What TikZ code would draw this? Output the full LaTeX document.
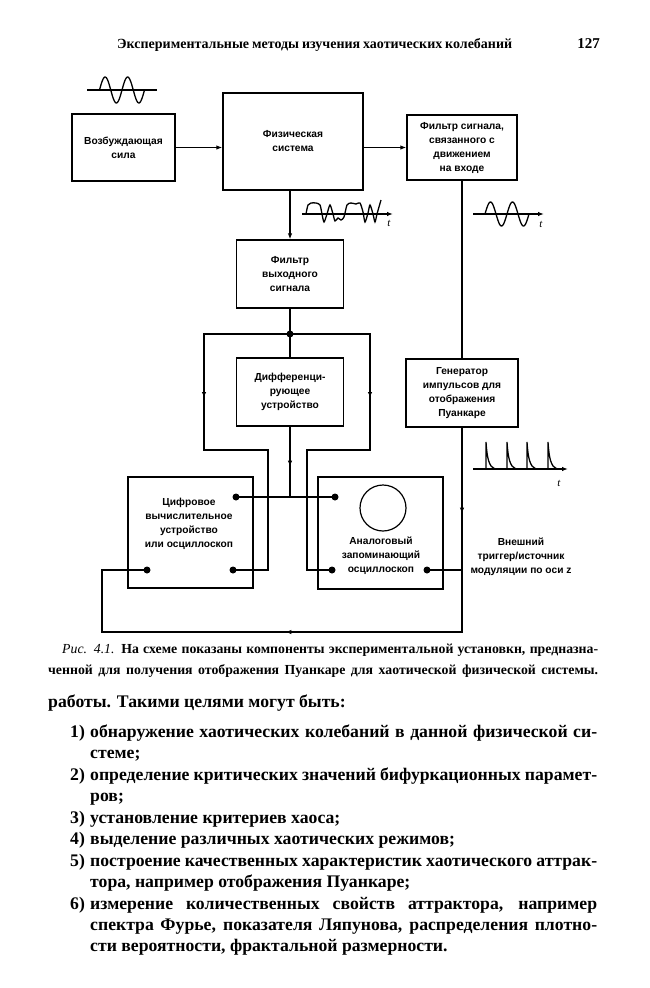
\documentclass[tikz,border=0pt]{standalone}
\usepackage{fontspec}
\setmainfont{Liberation Serif}
\setsansfont{Liberation Sans}
\usetikzlibrary{arrows.meta,decorations.markings}
\tikzset{
  blk/.style={draw, line width=1.3pt, inner sep=0pt},
  lbl/.style={font=\sffamily\bfseries\fontsize{10.2}{14}\selectfont, align=center},
  wire/.style={line width=1.3pt},
  dot/.style={circle, fill, inner sep=0pt, minimum size=7pt},
  tip/.style={-{Latex[length=6pt,width=4.5pt]}},
  marr/.style={postaction={decorate}, decoration={markings, mark=at position #1 with {\arrow{Latex[length=6pt,width=4.5pt]}}}},
  bodyf/.style={font=\bfseries\fontsize{17.7}{21}\selectfont, inner sep=0pt},
  capf/.style={font=\bfseries\fontsize{13.8}{21}\selectfont, inner sep=0pt},
  tlab/.style={font=\itshape\fontsize{11}{11}\selectfont, inner sep=0pt},
  wave/.style={line width=1.3pt},
}
\begin{document}
\begin{tikzpicture}[x=1pt,y=-1pt]
\fill[white] (0,0) rectangle (650,988);
\useasboundingbox (0,0) rectangle (650,988);

% header
\node[font=\bfseries\fontsize{14}{16}\selectfont, anchor=base west, inner sep=0pt] (hdr) at (117,48) {\makebox[395pt][s]{Экспериментальные методы изучения хаотических колебаний}};
\node[font=\bfseries\fontsize{15}{16}\selectfont, anchor=base east, inner sep=0pt] (pg) at (600,48) {127};

% boxes
\node[blk, lbl, minimum width=103pt, minimum height=67pt] (vozb) at (123.5,147.5) {Возбуждающая\\сила};
\node[blk, lbl, minimum width=140pt, minimum height=97pt] (fiz) at (293,141.5) {Физическая\\система};
\node[blk, lbl, minimum width=110pt, minimum height=65pt] (filtin) at (462,147.5) {Фильтр сигнала,\\связанного с\\движением\\на входе};
\node[blk, lbl, minimum width=107pt, minimum height=68pt] (filtout) at (290,274) {Фильтр\\выходного\\сигнала};
\node[blk, lbl, minimum width=107pt, minimum height=68pt] (diff) at (290,392) {Дифференци-\\рующее\\устройство};
\node[blk, lbl, minimum width=112pt, minimum height=68pt] (gen) at (462,393) {Генератор\\импульсов для\\отображения\\Пуанкаре};
\node[blk, minimum width=125pt, minimum height=111pt] (dig) at (190.5,532.5) {};
\node[blk, minimum width=125pt, minimum height=112pt] (ana) at (380.5,533) {};
\node[lbl] (digtxt) at (189,524) {Цифровое\\вычислительное\\устройство\\или осциллоскоп};
\node[lbl] (anatxt) at (381,556) {Аналоговый\\запоминающий\\осциллоскоп};
\node[draw, circle, line width=1.2pt, minimum size=46pt, inner sep=0pt] (screen) at (383,508) {};
\node[lbl] (ext) at (521,557) {Внешний\\триггер/источник\\модуляции по оси z};

% ports
\node[dot] (dRT) at (236,497) {};
\node[dot] (dRB) at (233,570) {};
\node[dot] (dLB) at (147,570) {};
\node[dot] (aLT) at (335,497) {};
\node[dot] (aLB) at (332,570) {};
\node[dot] (aRB) at (427,570) {};
\node[dot] (J) at (290,334) {};

% coordinates
\coordinate (L1) at (204,334);
\coordinate (L2) at (204,450);
\coordinate (L3) at (268,450);
\coordinate (R1) at (370,334);
\coordinate (R2) at (370,450);
\coordinate (R3) at (307,450);
\coordinate (B1) at (462,632);
\coordinate (B2) at (102,632);
\coordinate (M) at (290,497);

% connectors
\draw[wire, tip] (vozb.east) -- (vozb.east -| fiz.west);
\draw[wire, tip] (fiz.east |- filtin.west) -- (filtin.west);
\draw[wire, tip] (fiz.south -| filtout.north) -- (filtout.north);
\draw[wire] (filtout.south) -- (J.center);
\draw[wire] (J.center) -- (diff.north);
\draw[wire, marr=150pt] (J.center) -- (L1) -- (L2) -- (L3) |- (dRB.center);
\draw[wire, marr=144pt] (J.center) -- (R1) -- (R2) -- (R3) |- (aLB.center);
\draw[wire, marr=40pt] (diff.south) -- (M);
\draw[wire] (dRT.center) -- (aLT.center);
\draw[wire] (filtin.south) -- (gen.north);
\draw[wire, postaction={decorate}, decoration={markings,
   mark=at position 86pt with {\arrow{Latex[length=6pt,width=4.5pt]}},
   mark=at position 381pt with {\arrow{Latex[length=6pt,width=4.5pt]}}}]
   (gen.south) -- (B1) -- (B2) |- (dLB.center);
\draw[wire] (aRB.center) -- (aRB -| gen.south);

% input sine
\draw[wave] (87,90) -- (157,90);
\draw[wave] plot[domain=0:2, samples=80, smooth] ({99.5+22.5*\x},{90-13*sin(360*\x)});

% chaotic output
\draw[wave, tip] (302,214) -- (393,214);
\draw[wave] plot[smooth, tension=0.45] coordinates {(306,214) (308,205) (311,203) (316,203) (320,205) (322,214) (324,222) (327,214) (330,205) (333,214) (335,221) (338,218) (341,220) (344,217) (347,205) (351,203) (356,204) (360,203) (363,212) (365,222) (368,213) (370,205) (373,214) (375,222) (377,214) (381,200)};
\node[tlab] (t1) at (389,223) {t};

% filtered sine
\draw[wave, tip] (473,214) -- (544,214);
\draw[wave] plot[domain=0:2, samples=80, smooth] ({485+22*\x},{214-12*sin(360*\x)});
\node[tlab] (t2) at (541,224) {t};

% pulses
\draw[wave, tip] (473,469) -- (568,469);
\foreach \p in {486,507,527,548} {
  \draw[wave] (\p,469) -- (\p,442) .. controls (\p+1,458) and (\p+3,467) .. (\p+9,469);
}
\node[tlab] (t3) at (559,483) {t};

% caption
\node[capf, anchor=base west] (cap1) at (62,653) {\makebox[536pt][s]{\textit{\mdseries Рис. 4.1.} На схеме показаны компоненты экспериментальной установкн, предназна-}};
\node[capf, anchor=base west] (cap2) at (48,674) {\makebox[550pt][s]{ченной для получения отображения Пуанкаре для хаотической физической системы.}};

% body
\node[bodyf, anchor=base west] (b0) at (48,707) {работы. Такими целями могут быть:};
\node[bodyf, anchor=base west] (n1) at (70,737) {1)};
\node[bodyf, anchor=base west] (b1) at (90,737) {\makebox[507pt][s]{обнаружение хаотических колебаний в данной физической си-}};
\node[bodyf, anchor=base west] (b1b) at (90,758) {стеме;};
\node[bodyf, anchor=base west] (n2) at (70,780) {2)};
\node[bodyf, anchor=base west] (b2) at (90,780) {\makebox[507pt][s]{определение критических значений бифуркационных парамет-}};
\node[bodyf, anchor=base west] (b2b) at (90,801) {ров;};
\node[bodyf, anchor=base west] (n3) at (70,823) {3)};
\node[bodyf, anchor=base west] (b3) at (90,823) {установление критериев хаоса;};
\node[bodyf, anchor=base west] (n4) at (70,844) {4)};
\node[bodyf, anchor=base west] (b4) at (90,844) {выделение различных хаотических режимов;};
\node[bodyf, anchor=base west] (n5) at (70,866) {5)};
\node[bodyf, anchor=base west] (b5) at (90,866) {\makebox[507pt][s]{построение качественных характеристик хаотического аттрак-}};
\node[bodyf, anchor=base west] (b5b) at (90,887) {тора, например отображения Пуанкаре;};
\node[bodyf, anchor=base west] (n6) at (70,909) {6)};
\node[bodyf, anchor=base west] (b6) at (90,909) {\makebox[507pt][s]{измерение количественных свойств аттрактора, например}};
\node[bodyf, anchor=base west] (b6b) at (90,930) {\makebox[507pt][s]{спектра Фурье, показателя Ляпунова, распределения плотно-}};
\node[bodyf, anchor=base west] (b6c) at (90,951) {сти вероятности, фрактальной размерности.};
\end{tikzpicture}
\end{document}
